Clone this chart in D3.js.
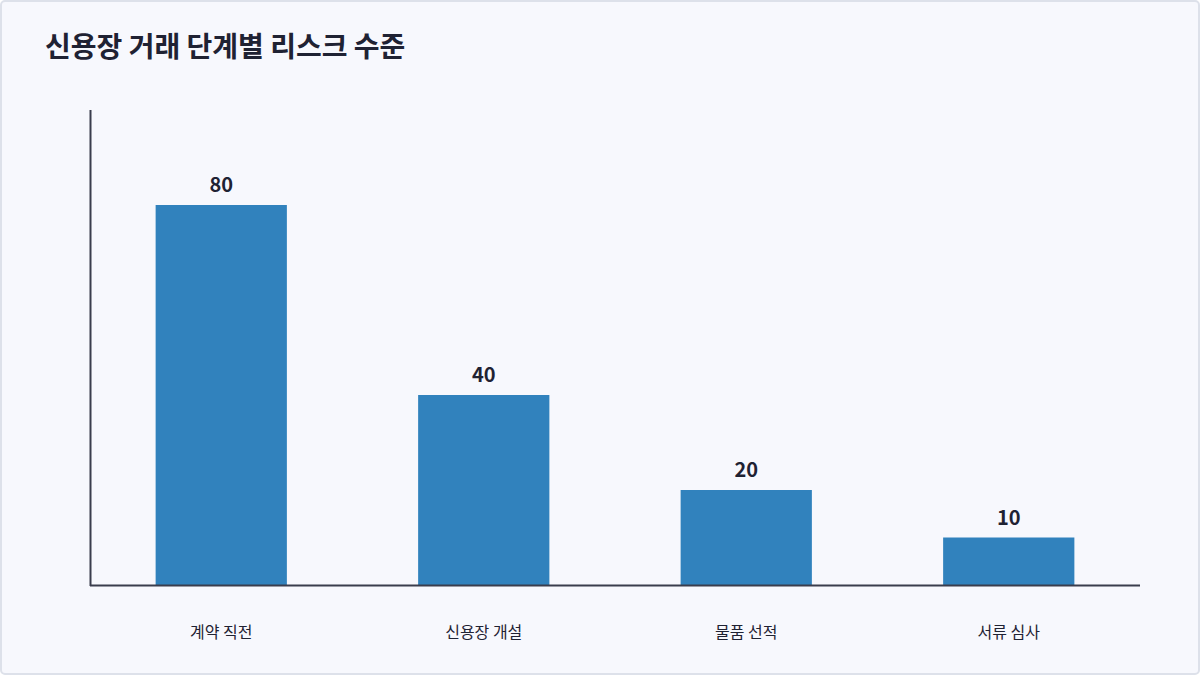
<!DOCTYPE html>
<html><head><meta charset="utf-8">
<script src="https://cdn.jsdelivr.net/npm/d3@7/dist/d3.min.js"></script>
<style>
body{margin:0;background:#fff;font-family:"Noto Sans CJK KR","Noto Sans",sans-serif;}
</style></head>
<body><svg width="1200" height="675"></svg>
<script>
var categories = ["계약 직전", "신용장 개설", "물품 선적", "서류 심사"];
var risk = [80, 40, 20, 10];

var svg = d3.select('svg');

svg.append('rect')
    .attr('x', 1).attr('y', 1).attr('width', 1198).attr('height', 673)
    .attr('rx', 4)
    .attr('fill', '#f7f8fd').attr('stroke', '#dde1ea').attr('stroke-width', 2);

svg.append('text')
    .attr('x', 45).attr('y', 57)
    .attr('font-size', 28).attr('font-weight', 700)
    .attr('fill', '#1f2233')
    .text('신용장 거래 단계별 리스크 수준');

var x = d3.scaleBand().domain(categories).range([90, 1140])
    .paddingInner(0.5).paddingOuter(0.25);
var y = d3.scaleLinear().domain([0, 100]).range([585, 110]);

svg.selectAll('rect.bar')
    .data(risk)
    .enter()
    .append('rect')
    .attr('class', 'bar')
    .attr('x', function(d, i){ return x(categories[i]); })
    .attr('y', function(d){ return y(d); })
    .attr('width', x.bandwidth())
    .attr('height', function(d){ return y(0) - y(d); })
    .attr('fill', '#3182bd');

svg.selectAll('text.val')
    .data(risk)
    .enter()
    .append('text')
    .attr('class', 'val')
    .attr('x', function(d, i){ return x(categories[i]) + x.bandwidth() / 2; })
    .attr('y', function(d){ return y(d) - 13; })
    .attr('text-anchor', 'middle')
    .attr('font-size', 20).attr('font-weight', 700)
    .attr('fill', '#1f2233')
    .text(function(d){ return d; });

// axes lines
svg.append('line').attr('x1', 90).attr('x2', 1140).attr('y1', 585.5).attr('y2', 585.5)
    .attr('stroke', '#3a3d4d').attr('stroke-width', 2);
svg.append('line').attr('x1', 90.5).attr('x2', 90.5).attr('y1', 110).attr('y2', 586)
    .attr('stroke', '#3a3d4d').attr('stroke-width', 2);

svg.selectAll('text.cat')
    .data(categories)
    .enter()
    .append('text')
    .attr('class', 'cat')
    .attr('x', function(d){ return x(d) + x.bandwidth() / 2; })
    .attr('y', 638)
    .attr('text-anchor', 'middle')
    .attr('font-size', 16)
    .attr('fill', '#1f2233')
    .text(function(d){ return d; });
</script>
</body></html>
